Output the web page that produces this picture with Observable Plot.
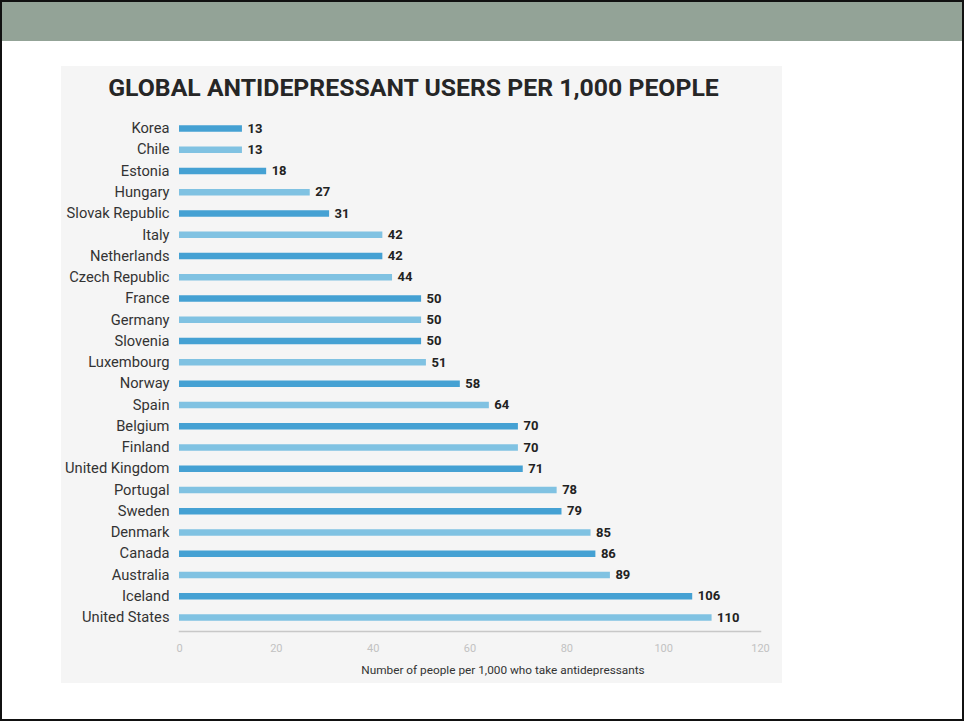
<!DOCTYPE html>
<html>
<head>
<meta charset="utf-8">
<script src="https://cdn.jsdelivr.net/npm/d3@7"></script>
<script src="https://cdn.jsdelivr.net/npm/@observablehq/plot@0.6"></script>
<style>
  html, body { margin: 0; padding: 0; background: #fff; }
  #slide {
    position: relative; width: 964px; height: 721px; box-sizing: border-box;
    border: 2px solid #111; background: #fff; overflow: hidden;
    font-family: Roboto, "Open Sans", sans-serif;
  }
  #header { position: absolute; left: 0; top: 0; width: 100%; height: 39px; background: #93a397; }
  #panel { position: absolute; left: 59px; top: 64px; width: 721px; height: 617px; background: #f5f5f5; }
  #title {
    position: absolute; left: 0; width: 100%; top: 7px; text-align: center;
    font-weight: 700; font-size: 24.8px; color: #262626; padding-right: 16px; box-sizing: border-box;
  }
  #chart { position: absolute; left: 0; top: 44px; }
  #xlabel {
    position: absolute; left: 442px; top: 597px; transform: translateX(-50%);
    font-size: 11.8px; color: #333; white-space: nowrap;
  }
</style>
</head>
<body>
<div id="slide">
  <div id="header"></div>
  <div id="panel">
    <div id="title">GLOBAL ANTIDEPRESSANT USERS PER 1,000 PEOPLE</div>
    <div id="chart"></div>
    <div id="xlabel">Number of people per 1,000 who take antidepressants</div>
  </div>
</div>
<script>
// Antidepressant users per 1,000 people, by country
const countries = [
  "Korea", "Chile", "Estonia", "Hungary", "Slovak Republic", "Italy", "Netherlands",
  "Czech Republic", "France", "Germany", "Slovenia", "Luxembourg", "Norway", "Spain",
  "Belgium", "Finland", "United Kingdom", "Portugal", "Sweden", "Denmark", "Canada",
  "Australia", "Iceland", "United States"
];
const users = [13, 13, 18, 27, 31, 42, 42, 44, 50, 50, 50, 51, 58, 64, 70, 70, 71, 78, 79, 85, 86, 89, 106, 110];
const xTicks = [0, 20, 40, 60, 80, 100, 120];
const shades = ["#45a1d3", "#80c2e2"];

const rows = countries.map((country, i) => ({ country, value: users[i], shade: shades[i % 2] }));

// rows sit on a point scale; the baseline is drawn a little below the last row
const baselineGap = 14;

const chart = Plot.plot({
  width: 721,
  height: 573,
  marginLeft: 118,
  marginRight: 22,
  marginTop: 18,
  marginBottom: 66,
  style: { background: "transparent", fontFamily: "Roboto, sans-serif" },
  x: { domain: [0, 120], ticks: xTicks, label: null },
  y: { type: "point", domain: countries, label: null, padding: 0, round: false },
  marks: [
    Plot.frame({ anchor: "bottom", stroke: "#c8c8c8", strokeWidth: 1.5, dy: baselineGap }),
    Plot.ruleY(rows, { y: "country", x1: 0, x2: "value", stroke: "shade", strokeWidth: 6.5 }),
    Plot.text(rows, {
      y: "country", x: "value", text: d => String(d.value), dx: 5, textAnchor: "start",
      fontWeight: 700, fontSize: 13, fill: "#222"
    }),
    Plot.axisY({ tickSize: 0, tickPadding: 10, fontSize: 14.7, color: "#333" }),
    Plot.axisX({ tickSize: 0, tickPadding: 13 + baselineGap, fontSize: 11, color: "#c2c2c2", ticks: xTicks, tickFormat: d => String(d) })
  ]
});
document.getElementById("chart").appendChild(chart);
</script>
</body>
</html>
